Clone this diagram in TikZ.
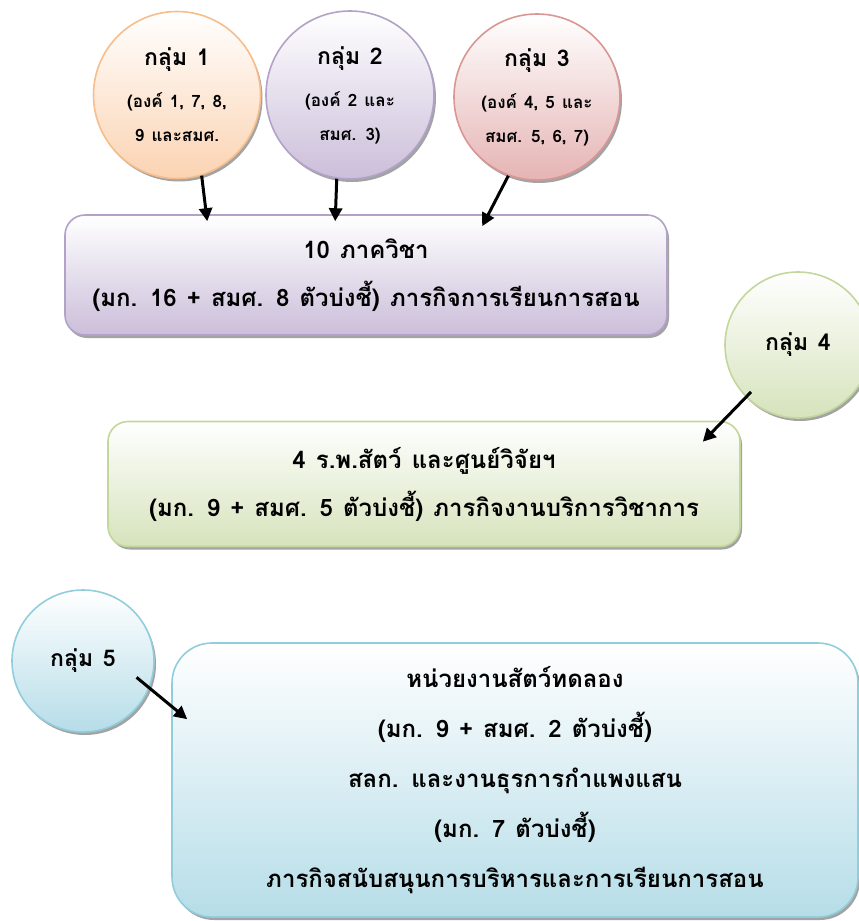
\documentclass[tikz,border=0pt]{standalone}
\usepackage{fontspec}
\newfontfamily\thaifont[Script=Thai, WordSpace=1.25]{Loma}
\usepackage{tikz}
\usetikzlibrary{arrows.meta, positioning, calc, shadows}
\definecolor{orgline}{RGB}{247,190,140}
\definecolor{orgfill}{RGB}{251,211,178}
\definecolor{purline}{RGB}{178,162,199}
\definecolor{purfill}{RGB}{203,190,218}
\definecolor{redline}{RGB}{217,150,148}
\definecolor{redfill}{RGB}{230,180,180}
\definecolor{grnline}{RGB}{195,214,155}
\definecolor{grnfill}{RGB}{214,227,188}
\definecolor{bluline}{RGB}{146,205,220}
\definecolor{blufill}{RGB}{182,221,232}
\newcommand{\grptitle}[1]{{\fontsize{23}{30}\selectfont #1}}

\begin{document}
\begin{tikzpicture}[x=1pt, y=-1pt,
  grp/.style={circle, line width=1.6pt, minimum size=#1, inner sep=0pt,
    align=center, font=\thaifont\bfseries\fontsize{17}{34}\selectfont,
    drop shadow={shadow xshift=2pt, shadow yshift=-3pt, fill=black!45, opacity=0.8}},
  unit/.style={rectangle, rounded corners=#1, line width=1.6pt, align=center,
    font=\thaifont\bfseries\fontsize{24}{48}\selectfont,
    drop shadow={shadow xshift=2pt, shadow yshift=-3pt, fill=black!45, opacity=0.8}},
  arr/.style={-{Triangle[length=13pt, width=13pt]}, line width=3pt, black}]

  \clip (0,0) rectangle (859,921);

  % groups on top
  \node[grp=167, draw=orgline, top color=white, bottom color=orgfill] (g1) at (177,95)
    {\grptitle{กลุ่ม 1}\\[8pt] (องค์ 1, 7, 8,\\ 9 และสมศ.};
  \node[grp=168, draw=purline, top color=white, bottom color=purfill] (g2) at (350,95)
    {\grptitle{กลุ่ม 2}\\[8pt] (องค์ 2 และ\\ สมศ. 3)};
  \node[grp=166, draw=redline, top color=white, bottom color=redfill] (g3) at (537,97)
    {\grptitle{กลุ่ม 3}\\[8pt] (องค์ 4, 5 และ\\ สมศ. 5, 6, 7)};

  % units
  \node[unit=20pt, draw=purline, top color=white, bottom color=purfill,
        minimum width=602, minimum height=120] (dept) at (366,275)
    {10 ภาควิชา\\ (มก. 16 + สมศ. 8 ตัวบ่งชี้) ภารกิจการเรียนการสอน};
  \node[grp=146, draw=grnline, top color=white, bottom color=grnfill] (g4) at (798,345)
    {\grptitle{กลุ่ม 4}};
  \node[unit=20pt, draw=grnline, top color=white, bottom color=grnfill,
        minimum width=632, minimum height=125] (hosp) at (424,484)
    {4 ร.พ.สัตว์ และศูนย์วิจัยฯ\\ (มก. 9 + สมศ. 5 ตัวบ่งชี้) ภารกิจงานบริการวิชาการ};
  \node[grp=142, draw=bluline, top color=white, bottom color=blufill] (g5) at (83,661)
    {\grptitle{กลุ่ม 5}};
  \node[unit=40pt, draw=bluline, top color=white, bottom color=blufill,
        minimum width=686, minimum height=274, font=\thaifont\bfseries\fontsize{24}{50}\selectfont]
        (supp) at (515,780)
    {หน่วยงานสัตว์ทดลอง\\ (มก. 9 + สมศ. 2 ตัวบ่งชี้)\\ สลก. และงานธุรการกำแพงแสน\\
     (มก. 7 ตัวบ่งชี้)\\ ภารกิจสนับสนุนการบริหารและการเรียนการสอน};

  % arrows
  \draw[arr] (g1.287) -- ($(dept.north west)+(143,7)$);
  \draw[arr] (g2.261) -- ($(dept.north west)+(271,7)$);
  \draw[arr] (g3.250) -- ($(dept.north west)+(418,12)$);
  \draw[arr] ($(g4.center)!0.9!(g4.225)$) -- ($(hosp.north east)+(-38,21)$);
  \draw[arr] ($(g5.center)!0.78!(g5.-17)$) -- ($(supp.north west)+(16,77)$);
\end{tikzpicture}
\end{document}
